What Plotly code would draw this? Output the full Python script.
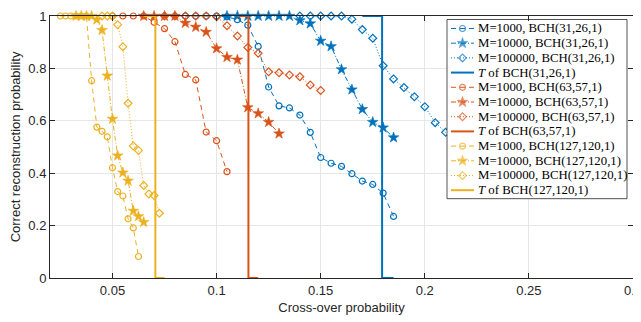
import plotly.graph_objects as go

# ---------------- data ----------------
# BCH(31,26,1)  (blue)
b1_x = [0.085, 0.09, 0.095, 0.1, 0.105, 0.11, 0.115, 0.12, 0.125, 0.13, 0.135, 0.14, 0.145,
        0.15, 0.155, 0.16, 0.165, 0.17, 0.175, 0.18, 0.185]
b1_y = [1, 1, 1, 1, 0.997, 0.986, 0.965, 0.884, 0.729, 0.657, 0.649, 0.622, 0.556,
        0.46, 0.438, 0.426, 0.398, 0.37, 0.357, 0.324, 0.235]
b2_x = [0.105, 0.11, 0.115, 0.12, 0.125, 0.13, 0.135, 0.14, 0.145, 0.15, 0.155, 0.16,
        0.165, 0.17, 0.175, 0.18, 0.185]
b2_y = [1, 1, 1, 1, 1, 1, 1, 0.983, 0.971, 0.905, 0.884, 0.796, 0.719, 0.644, 0.595, 0.574, 0.536]
b3_x = [0.14, 0.145, 0.15, 0.155, 0.16, 0.165, 0.17, 0.175, 0.18, 0.185, 0.19, 0.195, 0.2, 0.205, 0.21]
b3_y = [1, 1, 1, 1, 1, 0.988, 0.948, 0.915, 0.81, 0.76, 0.727, 0.692, 0.654, 0.593, 0.556]
bt_x = [0.17, 0.1795, 0.1795, 0.185]
bt_y = [1, 1, 0, 0]

# BCH(63,57,1)  (orange)
o1_x = [0.05, 0.055, 0.06, 0.065, 0.07, 0.075, 0.08, 0.085, 0.09, 0.095, 0.1, 0.105]
o1_y = [1, 1, 1, 1, 0.976, 0.952, 0.902, 0.777, 0.756, 0.557, 0.524, 0.406]
o2_x = [0.065, 0.07, 0.075, 0.08, 0.085, 0.09, 0.095, 0.1, 0.105, 0.11, 0.115, 0.12, 0.125, 0.13]
o2_y = [1, 1, 1, 1, 0.973, 0.958, 0.939, 0.876, 0.843, 0.833, 0.651, 0.628, 0.595, 0.551]
o3_x = [0.075, 0.08, 0.085, 0.09, 0.095, 0.1, 0.105, 0.11, 0.115, 0.12, 0.125, 0.13,
        0.135, 0.14, 0.145, 0.15]
o3_y = [1, 1, 1, 1, 1, 0.997, 0.963, 0.924, 0.88, 0.858, 0.787, 0.783,
        0.775, 0.768, 0.737, 0.716]
ot_x = [0.11, 0.1153, 0.1153, 0.12]
ot_y = [1, 1, 0, 0]

# BCH(127,120,1)  (yellow)
y1_x = [0.025, 0.0275, 0.03, 0.0325, 0.035, 0.0375, 0.04, 0.0425, 0.045, 0.0475, 0.05,
        0.0525, 0.055, 0.0575, 0.06, 0.0625]
y1_y = [1, 1, 1, 1, 1, 1, 0.753, 0.576, 0.56, 0.539, 0.421, 0.33, 0.313, 0.226, 0.191, 0.082]
y2_x = [0.0325, 0.035, 0.0375, 0.04, 0.0425, 0.045, 0.0475, 0.05, 0.0525, 0.055, 0.0575,
        0.06, 0.0625, 0.065]
y2_y = [1, 1, 1, 1, 0.986, 0.946, 0.772, 0.607, 0.467, 0.402, 0.371, 0.256, 0.235, 0.213]
y3_x = [0.045, 0.0475, 0.05, 0.0525, 0.055, 0.0575, 0.06, 0.0625, 0.065, 0.0675, 0.07, 0.0725]
y3_y = [1, 1, 1, 0.967, 0.883, 0.667, 0.504, 0.487, 0.353, 0.321, 0.315, 0.247]
yt_x = [0.065, 0.0706, 0.0706, 0.075]
yt_y = [1, 1, 0, 0]

x_ticks = [0.05, 0.1, 0.15, 0.2, 0.25, 0.3]
x_tick_labels = ["0.05", "0.1", "0.15", "0.2", "0.25", "0.3"]
y_ticks = [0, 0.2, 0.4, 0.6, 0.8, 1]
y_tick_labels = ["0", "0.2", "0.4", "0.6", "0.8", "1"]

codes = ["BCH(31,26,1)", "BCH(63,57,1)", "BCH(127,120,1)"]
m_labels = ["M=1000", "M=10000", "M=100000"]

# ---------------- styles ----------------
BLUE = "#0072BD"
ORANGE = "#D95319"
YELLOW = "#EDB120"
AX = "#262626"
SANS = "Liberation Sans, Arial, sans-serif"
SERIF = "Liberation Serif, Times New Roman, serif"

STYLES = [  # (dash, symbol, size, marker line width)
    ("5px,4px", "circle-open", 6, 1.2),
    ("5px,2px,1px,2px", "star", 8, 0.6),
    ("1px,2px", "diamond-open", 6, 1.2),
]

# figure geometry (page body adds an 8px offset, so the figure is 8px smaller than the window)
FIG_W, FIG_H = 633, 314
M_L, M_R, M_T, M_B = 42, 8, 7.5, 44
PAGE_OFF = 8
PLOT_L = PAGE_OFF + M_L
PLOT_R = PAGE_OFF + FIG_W - M_R
PLOT_T = PAGE_OFF + M_T
PLOT_B = PAGE_OFF + FIG_H - M_B


def fx(px):  # window pixel -> plot fraction
    return (px - PLOT_L) / (PLOT_R - PLOT_L)


def fy(py):
    return (PLOT_B - py) / (PLOT_B - PLOT_T)


fig = go.Figure()

groups = [
    ([(b1_x, b1_y), (b2_x, b2_y), (b3_x, b3_y)], (bt_x, bt_y), BLUE, codes[0]),
    ([(o1_x, o1_y), (o2_x, o2_y), (o3_x, o3_y)], (ot_x, ot_y), ORANGE, codes[1]),
    ([(y1_x, y1_y), (y2_x, y2_y), (y3_x, y3_y)], (yt_x, yt_y), YELLOW, codes[2]),
]

legend_entries = []  # (label, color, style or None for T)
for curves, (tx, ty), col, code in groups:
    for (cx, cy), (dash, sym, size, mlw), mlab in zip(curves, STYLES, m_labels):
        fig.add_trace(go.Scatter(
            x=cx, y=cy, mode="lines+markers", cliponaxis=False, showlegend=False,
            line=dict(color=col, width=1, dash=dash),
            marker=dict(symbol=sym, size=size, color=col, line=dict(color=col, width=mlw)),
        ))
        legend_entries.append((f"{mlab}, {code}", col, (dash, sym, size, mlw)))
    fig.add_trace(go.Scatter(
        x=tx, y=ty, mode="lines", cliponaxis=False, showlegend=False,
        line=dict(color=col, width=2),
    ))
    legend_entries.append((f"<i>T</i> of {code}", col, None))

# ---------------- custom compact legend (overlay axis in plot-fraction units) ----------------
LEG_L_PX, LEG_R_PX = 447, 627
LEG_T_PX = 19
ROW_STEP_PX = 14.73
ROW0_PX = LEG_T_PX + 9
LEG_B_PX = ROW0_PX + ROW_STEP_PX * (len(legend_entries) - 1) + 8.5
SAMPLE_L_PX, SAMPLE_R_PX = 451, 474
TEXT_PX = 476

LEG_X0, LEG_X1 = fx(LEG_L_PX), fx(LEG_R_PX)
LEG_TOP, LEG_BOTTOM = fy(LEG_T_PX), fy(LEG_B_PX)
SAMPLE_X0, SAMPLE_X1 = fx(SAMPLE_L_PX), fx(SAMPLE_R_PX)
TEXT_X = fx(TEXT_PX)

fig.add_trace(go.Scatter(
    x=[LEG_X0, LEG_X1, LEG_X1, LEG_X0, LEG_X0],
    y=[LEG_TOP, LEG_TOP, LEG_BOTTOM, LEG_BOTTOM, LEG_TOP],
    mode="lines", fill="toself", fillcolor="white",
    line=dict(color=AX, width=0.8), xaxis="x2", yaxis="y2",
    showlegend=False, hoverinfo="skip", cliponaxis=False,
))
annotations = []
for i, (label, col, style) in enumerate(legend_entries):
    ry = fy(ROW0_PX + i * ROW_STEP_PX)
    xm = (SAMPLE_X0 + SAMPLE_X1) / 2
    if style is None:
        fig.add_trace(go.Scatter(
            x=[SAMPLE_X0, SAMPLE_X1], y=[ry, ry], mode="lines", xaxis="x2", yaxis="y2",
            line=dict(color=col, width=2), showlegend=False, hoverinfo="skip", cliponaxis=False,
        ))
    else:
        dash, sym, size, mlw = style
        fig.add_trace(go.Scatter(
            x=[SAMPLE_X0, xm, SAMPLE_X1], y=[ry, ry, ry], mode="lines+markers",
            xaxis="x2", yaxis="y2",
            line=dict(color=col, width=1, dash=dash),
            marker=dict(symbol=sym, size=[0, size, 0], color=col,
                        line=dict(color=col, width=[0, mlw, 0])),
            showlegend=False, hoverinfo="skip", cliponaxis=False,
        ))
    annotations.append(dict(
        x=TEXT_X, y=ry, xref="paper", yref="paper", xanchor="left", yanchor="middle",
        text=label, showarrow=False, font=dict(family=SERIF, size=12.8, color="black"),
    ))

axis_common = dict(
    showline=True, linecolor=AX, linewidth=1, mirror="ticks",
    ticks="inside", ticklen=5, tickcolor=AX, automargin=False,
    ticklabeloverflow="allow",
    showgrid=True, gridcolor="#E6E6E6", gridwidth=1, zeroline=False,
    tickfont=dict(family=SANS, size=13, color=AX),
)

fig.update_layout(
    xaxis=dict(range=[0.02, 0.3], tickvals=x_ticks, ticktext=x_tick_labels,
               title=dict(text="Cross-over probability", standoff=6,
                          font=dict(family=SANS, size=13, color=AX)),
               **axis_common),
    yaxis=dict(range=[0, 1], tickvals=y_ticks, ticktext=y_tick_labels,
               title=dict(text="Correct reconstruction probability", standoff=8,
                          font=dict(family=SANS, size=13, color=AX)),
               **axis_common),
    xaxis2=dict(overlaying="x", range=[0, 1], visible=False, fixedrange=True),
    yaxis2=dict(overlaying="y", range=[0, 1], visible=False, fixedrange=True),
    width=FIG_W, height=FIG_H,
    margin=dict(l=M_L, r=M_R, t=M_T, b=M_B, autoexpand=False),
    plot_bgcolor="white", paper_bgcolor="white",
    showlegend=False,
    annotations=annotations,
)

fig.write_html("out.html")
